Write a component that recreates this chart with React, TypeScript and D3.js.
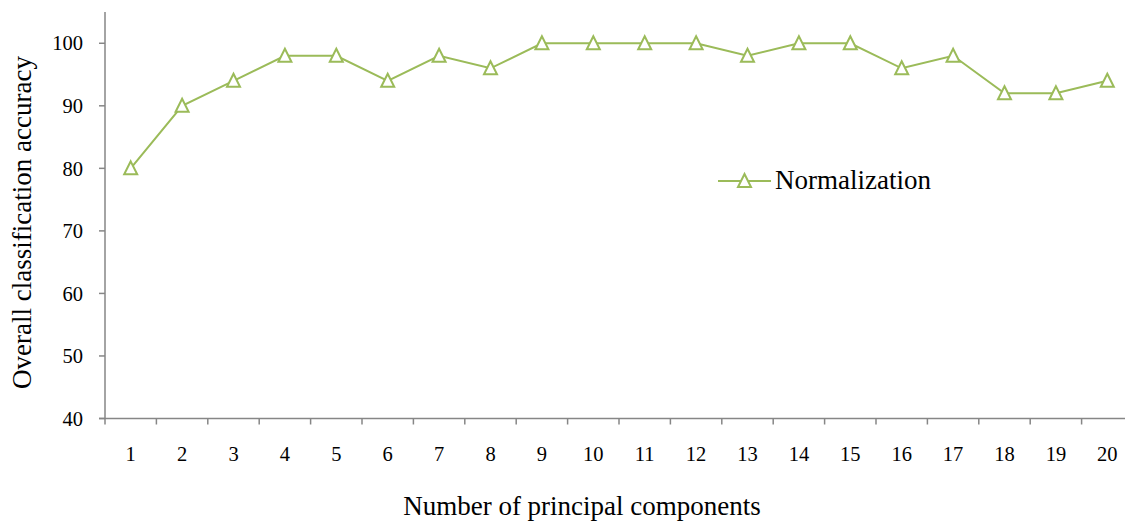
import React from "react";
import * as d3 from "d3";

const categories = Array.from({ length: 20 }, (_, i) => String(i + 1));
const accuracy = [80, 90, 94, 98, 98, 94, 98, 96, 100, 100, 100, 100, 98, 100, 100, 96, 98, 92, 92, 94];
const yTicks = [40, 50, 60, 70, 80, 90, 100];
const seriesName = "Normalization";
const xTitle = "Number of principal components";
const yTitle = "Overall classification accuracy";

const W = 1125;
const H = 523;
const left = 105;
const right = 1133;
const top = 12;
const bottom = 418.5;
const color = "#9BBB59";
const axisColor = "#868686";
const font = "'Liberation Serif', 'Times New Roman', serif";

export default function App() {
  const x = d3.scaleBand<string>().domain(categories).range([left, right]).padding(0);
  const y = d3.scaleLinear().domain([40, 105]).range([bottom, top]);
  const cx = (c: string) => (x(c) as number) + x.bandwidth() / 2;
  const line = d3
    .line<number>()
    .x((_, i) => cx(categories[i]))
    .y((d) => y(d));
  const triPath = (px: number, py: number) => {
    const hw = 6.5;
    return `M${px},${py - 7}L${px + hw},${py + 6}L${px - hw},${py + 6}Z`;
  };
  const xTickPos = categories.map((c) => x(c) as number).concat([right]);

  return (
    <svg width={W} height={H} style={{ position: "absolute", left: 0, top: 0, background: "#fff" }} fontFamily={font}>
      {/* y axis */}
      <line x1={left} x2={left} y1={top} y2={bottom} stroke={axisColor} strokeWidth={1.5} />
      {yTicks.map((t) => (
        <g key={t}>
          <line x1={left - 6} x2={left} y1={y(t)} y2={y(t)} stroke={axisColor} strokeWidth={1.5} />
          <text x={left - 22} y={y(t)} dy="0.35em" textAnchor="end" fontSize={20.5} fill="#000">
            {t}
          </text>
        </g>
      ))}
      {/* x axis */}
      <line x1={left - 6} x2={right} y1={bottom} y2={bottom} stroke={axisColor} strokeWidth={1.5} />
      {xTickPos.map((p, i) => (
        <line key={i} x1={p} x2={p} y1={bottom} y2={bottom + 6} stroke={axisColor} strokeWidth={1.5} />
      ))}
      {categories.map((c) => (
        <text key={c} x={cx(c)} y={461} textAnchor="middle" fontSize={20.5} fill="#000">
          {c}
        </text>
      ))}
      {/* series */}
      <path d={line(accuracy) || ""} fill="none" stroke={color} strokeWidth={2} />
      {accuracy.map((v, i) => (
        <path key={i} d={triPath(cx(categories[i]), y(v))} fill="#fff" stroke={color} strokeWidth={2} />
      ))}
      {/* legend */}
      <line x1={718} x2={771} y1={181} y2={181} stroke={color} strokeWidth={2} />
      <path d={triPath(744.5, 181)} fill="#fff" stroke={color} strokeWidth={2} />
      <text x={775} y={189} fontSize={27} fill="#000">
        {seriesName}
      </text>
      {/* titles */}
      <text x={582} y={515} textAnchor="middle" fontSize={27} fill="#000">
        {xTitle}
      </text>
      <text transform={`translate(31,222.5) rotate(-90)`} textAnchor="middle" fontSize={27} fill="#000">
        {yTitle}
      </text>
    </svg>
  );
}
